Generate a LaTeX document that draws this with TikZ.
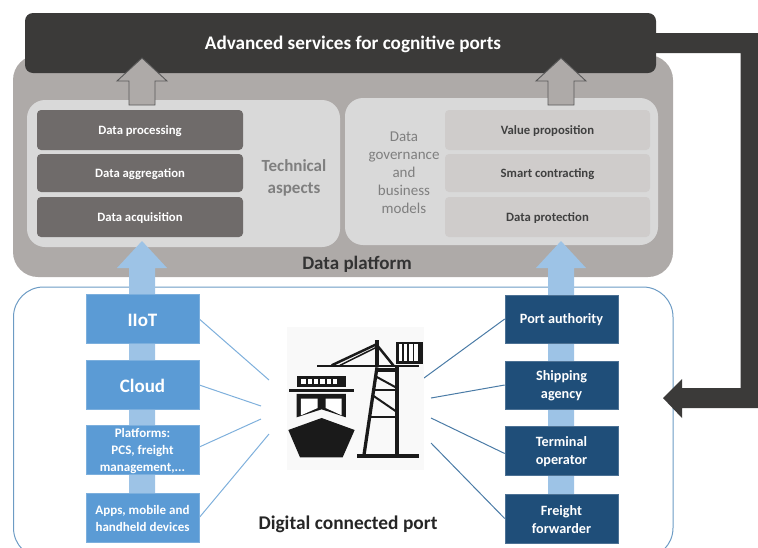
\documentclass[tikz,border=0pt]{standalone}
\usepackage{fontspec}
\setmainfont{Carlito}
\definecolor{dark}{HTML}{3B3A39}
\definecolor{plat}{HTML}{AEAAA8}
\definecolor{panel}{HTML}{D9D9D9}
\definecolor{midg}{HTML}{6F6B6A}
\definecolor{ligg}{HTML}{CFCCCB}
\definecolor{txtg}{HTML}{7F7F7F}
\definecolor{bluea}{HTML}{9DC3E6}
\definecolor{blueb}{HTML}{5B9BD5}
\definecolor{bluec}{HTML}{1F4E79}
\definecolor{outl}{HTML}{6C9BC4}
\definecolor{lnl}{HTML}{7FB0DC}
\definecolor{lnr}{HTML}{4A7BA6}
\definecolor{iconbg}{HTML}{F9F9F9}
\definecolor{ink}{HTML}{1A1A1A}
\tikzset{
  midbox/.style={fill=midg,rounded corners=4,text=white,font=\bfseries\fontsize{12.7}{15}\selectfont,align=center},
  ligbox/.style={fill=ligg,rounded corners=4,text=black!75,font=\bfseries\fontsize{12.7}{15}\selectfont,align=center},
  lbox/.style={fill=blueb,draw=blueb!80!white,line width=.6pt,text=white,align=center},
  lbig/.style={lbox,font=\bfseries\fontsize{19}{22}\selectfont},
  lsmall/.style={lbox,font=\bfseries\fontsize{13}{16.7}\selectfont},
  rbox/.style={fill=bluec,draw=bluec!80!white,line width=.6pt,text=white,font=\bfseries\fontsize{14.2}{18}\selectfont,align=center},
  lnL/.style={draw=lnl,line width=1pt},
  lnR/.style={draw=lnr,line width=1pt},
  up/.style={fill=plat,draw=black!65,line width=.9pt,line join=miter},
  iconline/.style={draw=ink,line cap=butt},
}
% style, x, y, w, h, name, text
\newcommand{\bx}[7][]{%
  \node[#1,minimum width=#4 pt,minimum height=#5 pt,inner sep=0pt] (#6) at (#2,#3) {};
  \node[#1,fill=none,draw=none,inner sep=0pt] (#6t) at ([yshift=-1pt]#6.center) {#7};
}
\begin{document}
\begin{tikzpicture}[x=1pt,y=-1pt]
\useasboundingbox (0,0) rectangle (758,547);
\begin{scope}
\clip (0,0) rectangle (758,547);
% data platform
\fill[plat] (13,55) [rounded corners=25] -- (13,277) -- (673,277) -- (673,55) -- cycle;
\node[font=\bfseries\fontsize{19}{22}\selectfont,text=black!80] (dp) at (357,264) {Data platform};
% panels
\fill[panel,rounded corners=18] (27,100) rectangle (340,247);
\fill[panel,rounded corners=18] (345,98) rectangle (658,245);
% boxes
\bx[midbox]{140}{130}{206}{40}{dproc}{Data processing}
\bx[midbox]{140}{173}{206}{38}{dagg}{Data aggregation}
\bx[midbox]{140}{217}{206}{40}{dacq}{Data acquisition}
\bx[ligbox]{547.5}{130}{205}{40}{vprop}{Value proposition}
\bx[ligbox]{547.5}{173}{205}{38}{smart}{Smart contracting}
\bx[ligbox]{547.5}{217}{205}{40}{dprot}{Data protection}
\node[text=txtg,font=\bfseries\fontsize{17}{21.5}\selectfont,align=center] (tech) at (294,178) {Technical\\aspects};
\node[text=txtg,font=\fontsize{15}{18}\selectfont,align=center] (gov) at (404,173) {Data\\governance\\and\\business\\models};
% outline of port
\draw[outl,line width=1pt,rounded corners=30] (13.5,287) rectangle (673,558);
% blue arrows
\foreach \c in {142,561}{
  \fill[bluea] (\c,241) -- (\c+25,268) -- (\c+13,268) -- (\c+13,525) -- (\c-13,525) -- (\c-13,268) -- (\c-25,268) -- cycle;
}
% dark bar
\node[fill=dark,rounded corners=8,minimum width=631pt,minimum height=60pt,inner sep=0pt] (adv) at (340.5,43) {};
\node[text=white,font=\bfseries\fontsize{19.2}{22}\selectfont] (advt) at (353,44) {Advanced services for cognitive ports};
% grey arrows
\foreach \c in {142,561}{
  \draw[up] (\c,58) -- (\c+25,81) -- (\c+13,81) -- (\c+13,105) -- (\c-13,105) -- (\c-13,81) -- (\c-25,81) -- cycle;
}
% feedback arrow
\coordinate (fbend) at (663,398);
\fill[dark] (655,33) -- (760,33) -- (760,408) -- (682,408) -- (682,418) -- (fbend) -- (682,379) -- (682,388) -- (740.5,388) -- (740.5,53) -- (655,53) -- cycle;
% left boxes
\bx[lbig]{142.5}{319}{113}{49}{iiot}{IIoT}
\bx[lbig]{142.5}{385}{113}{49}{cloud}{Cloud}
\bx[lsmall]{142.5}{450}{113}{49}{plats}{Platforms:\\PCS, freight\\management,...}
\bx[lsmall]{142.5}{517.5}{113}{49}{apps}{Apps, mobile and\\handheld devices}
% right boxes
\bx[rbox]{561.5}{319}{113}{48}{pa}{Port authority}
\bx[rbox]{561.5}{385}{113}{48}{sa}{Shipping\\agency}
\bx[rbox]{561.5}{450.5}{113}{49}{to}{Terminal\\operator}
\bx[rbox]{561.5}{518.5}{113}{49}{ff}{Freight\\forwarder}
% connector ends
\coordinate (l1) at (269,380);
\coordinate (l2) at (261,406);
\coordinate (l3) at (261,419);
\coordinate (l4) at (269,434);
\coordinate (r1) at (424,378);
\coordinate (r2) at (431,398);
\coordinate (r3) at (431,418);
\coordinate (r4) at (431,443);
\draw[lnL] (iiot.east) -- (l1);
\draw[lnL] (cloud.east) -- (l2);
\draw[lnL] ([yshift=3pt]plats.east) -- (l3);
\draw[lnL] (apps.east) -- (l4);
\draw[lnR] (pa.west) -- (r1);
\draw[lnR] (sa.west) -- (r2);
\draw[lnR] ([yshift=-3pt]to.west) -- (r3);
\draw[lnR] (ff.west) -- (r4);
\node[font=\bfseries\fontsize{19.4}{22}\selectfont,text=black!85] (dcp) at (348,524) {Digital connected port};
% icon
\begin{scope}[shift={(260,310)},x=.3333pt,y=-.3333pt]
\fill[iconbg] (80,52) rectangle (492,480);
% ship
\fill[ink] (86,237) rectangle (282,246);
\fill[ink] (110,197) rectangle (258,230);
\foreach \i in {0,1,2,3,4,5}{\fill[white] (125+\i*19-1,208) rectangle +(13,13);}
\fill[ink] (110,252) -- (258,252) -- (258,322) -- (185,298) -- (110,322) -- cycle;
\fill[white] (123,266) -- (173,266) -- (173,294) -- (123,316) -- cycle;
\fill[white] (197,266) -- (245,266) -- (245,316) -- (197,294) -- cycle;
\fill[ink] (85,360) -- (185,324) -- (284,360) -- (248,442) -- (120,442) -- cycle;
% crane
\fill[ink] (170,164) rectangle (478,172);
\fill[ink] (290,431) rectangle (477,443);
\fill[ink] (346,90) rectangle (357,172);
\draw[iconline,line width=3.3pt] (351,172) -- (312,435);
\draw[iconline,line width=3.3pt] (411,172) -- (411,435);
\draw[iconline,line width=2.5pt] (215,166) -- (349,103) -- (400,166);
\draw[iconline,line width=1.5pt] (240,166) -- (349,112);
\fill[ink] (350,175) rectangle (411,186);
\draw[iconline,line width=2pt] (345,198) -- (411,234);
\draw[iconline,line width=2pt] (342,240) -- (411,240);
\draw[iconline,line width=2pt] (338,256) -- (411,306);
\draw[iconline,line width=2pt] (332,320) -- (411,320);
% container
\fill[ink] (408,95) rectangle (488,163);
\foreach \i in {0,1,2,3}{\fill[white] (417+\i*15.5,103) rectangle +(10,51);}
\end{scope}
\end{scope}
\end{tikzpicture}
\end{document}
